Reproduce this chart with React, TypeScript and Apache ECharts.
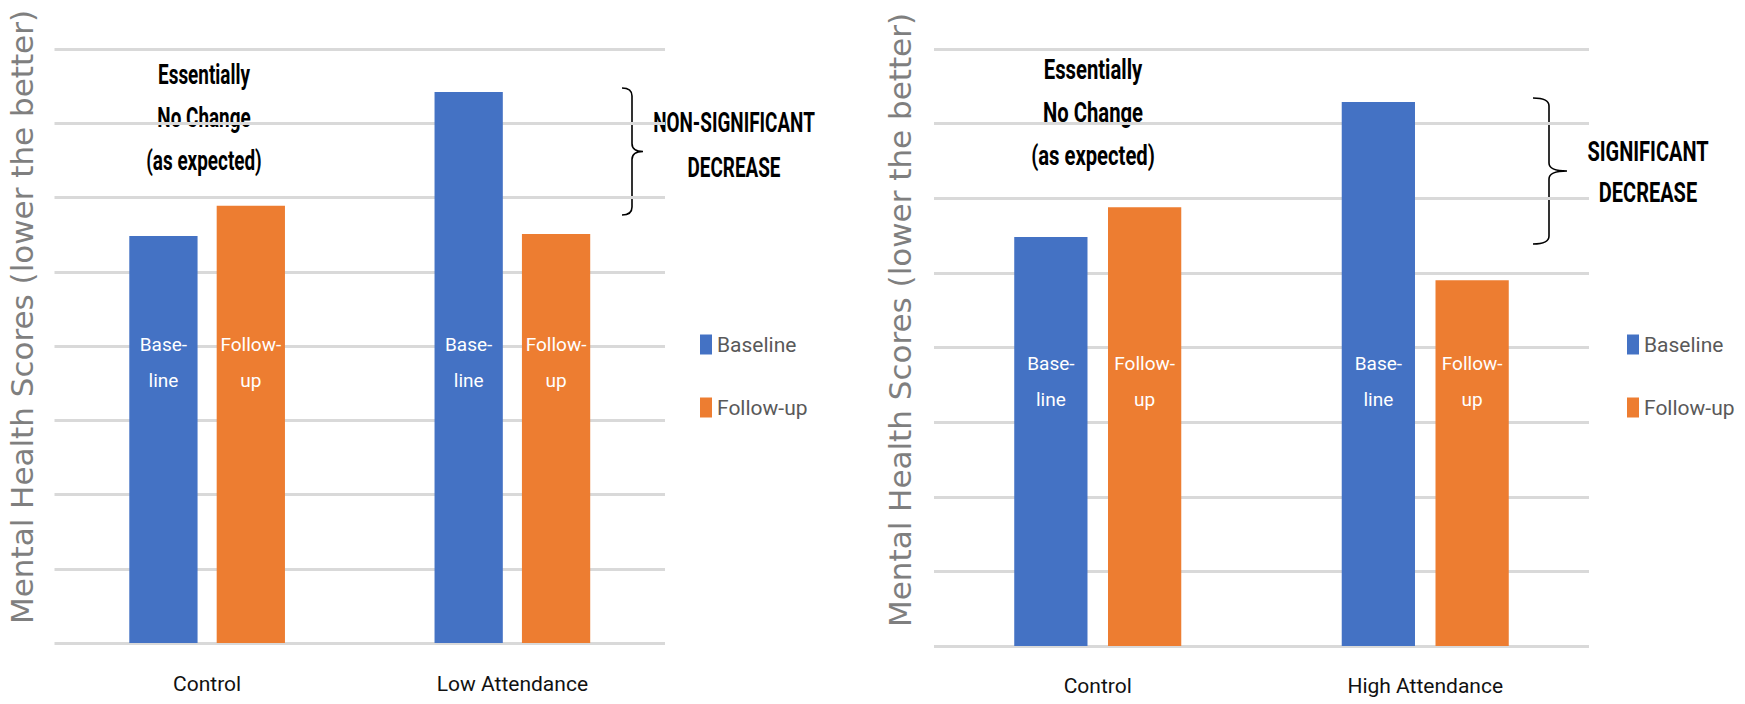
import React, { useEffect, useRef } from "react";
import * as echarts from "echarts";

// ---- data ----
const seriesNames = ["Baseline", "Follow-up"];
const leftCategories = ["Control", "Low Attendance"];
const rightCategories = ["Control", "High Attendance"];
const leftBaseline = [5.48, 7.42];
const leftFollowUp = [5.89, 5.51];
const rightBaseline = [5.48, 7.29];
const rightFollowUp = [5.88, 4.9];
const barLabels = ["Base-\nline", "Follow-\nup"];
const labelLevels = [3.78, 3.55]; // value level where the in-bar labels sit (left, right)
const yAxisTitle = "Mental Health Scores (lower the better)";
const noChangeNote = "Essentially\nNo Change\n(as expected)";
const leftNote = "NON-SIGNIFICANT\nDECREASE";
const rightNote = "SIGNIFICANT\nDECREASE";
const yMin = 0;
const yMax = 8;
const yStep = 1;

const FONT = "Roboto, 'Liberation Sans', sans-serif";
const BLUE = "#4472C4";
const ORANGE = "#ED7D31";

function braceD(w: number, h: number, xv: number) {
  const r = Math.min(8, h / 10);
  const m = h / 2;
  return `M0,0 Q${xv},0 ${xv},${r} L${xv},${m - r} Q${xv},${m} ${w},${m} Q${xv},${m} ${xv},${m + r} L${xv},${h - r} Q${xv},${h} 0,${h}`;
}

let registered = false;
function registerBraces() {
  if (registered) return;
  registered = true;
  echarts.graphic.registerShape("braceLeft", echarts.graphic.extendPath(braceD(21, 127, 10), {}) as any);
  echarts.graphic.registerShape("braceRight", echarts.graphic.extendPath(braceD(34, 146, 16), {}) as any);
}

function barSeries(name: string, data: number[], idx: number, color: string, text: string, level: number) {
  return {
    type: "bar",
    name,
    xAxisIndex: idx,
    yAxisIndex: idx,
    barGap: "28%",
    barCategoryGap: "49%",
    itemStyle: { color },
    emphasis: { disabled: true },
    label: {
      show: true,
      formatter: text,
      color: "#ffffff",
      fontFamily: FONT,
      fontSize: 19,
      lineHeight: 36,
      align: "center",
      verticalAlign: "middle",
    },
    data: data.map((v) => ({
      value: v,
      label: { position: ["50%", `${((v - level) / v) * 100}%`] },
    })),
  };
}

function xAxis(idx: number, cats: string[], margin: number) {
  return {
    type: "category",
    gridIndex: idx,
    data: cats,
    axisLine: { show: false },
    axisTick: { show: false },
    axisLabel: { margin, fontSize: 21, color: "#111", fontFamily: FONT },
  };
}

function yAxis(idx: number, gap: number, pad: number) {
  return {
    type: "value",
    gridIndex: idx,
    min: yMin,
    max: yMax,
    interval: yStep,
    axisLabel: { show: false },
    axisLine: { show: false },
    axisTick: { show: false },
    splitLine: { lineStyle: { color: "#d9d9d9", width: 3 } },
    name: yAxisTitle,
    nameLocation: "middle",
    nameRotate: 90,
    nameGap: gap,
    nameTextStyle: {
      fontFamily: "'DejaVu Sans', Verdana, sans-serif",
      fontSize: 31,
      color: "#7f7f7f",
      padding: [0, 0, 0, pad],
    },
  };
}

function legend(left: number) {
  return {
    data: seriesNames,
    left,
    top: 334,
    orient: "vertical",
    icon: "rect",
    itemWidth: 12,
    itemHeight: 20,
    itemGap: 42,
    padding: 0,
    selectedMode: false,
    textStyle: { fontFamily: FONT, fontSize: 21, color: "#595959" },
  };
}

function noteText(text: string, x: number, y: number, sx: number, lh: number) {
  return {
    type: "text",
    x,
    y,
    scaleX: sx,
    style: {
      text,
      fill: "#000",
      fontFamily: FONT,
      fontWeight: "bold",
      fontSize: 27,
      lineHeight: lh,
      align: "center",
      verticalAlign: "middle",
    },
  };
}

export default function App() {
  const ref = useRef<HTMLDivElement>(null);
  useEffect(() => {
    document.body.style.margin = "0";
    registerBraces();
    const chart = echarts.init(ref.current!, null, { renderer: "svg" });
    chart.setOption({
      animation: false,
      backgroundColor: "#ffffff",
      grid: [
        { left: 54.5, top: 49, width: 610.5, height: 594 },
        { left: 934, top: 49, width: 655, height: 597 },
      ],
      xAxis: [xAxis(0, leftCategories, 30), xAxis(1, rightCategories, 29)],
      yAxis: [yAxis(0, 17, 58), yAxis(1, 19, 55)],
      legend: [legend(700), legend(1627)],
      series: [
        barSeries(seriesNames[0], leftBaseline, 0, BLUE, barLabels[0], labelLevels[0]),
        barSeries(seriesNames[1], leftFollowUp, 0, ORANGE, barLabels[1], labelLevels[0]),
        barSeries(seriesNames[0], rightBaseline, 1, BLUE, barLabels[0], labelLevels[1]),
        barSeries(seriesNames[1], rightFollowUp, 1, ORANGE, barLabels[1], labelLevels[1]),
      ],
      graphic: [
        noteText(noChangeNote, 204, 118, 0.7, 43),
        noteText(noChangeNote, 1093, 113, 0.75, 43),
        noteText(leftNote, 734, 145.5, 0.7, 45),
        noteText(rightNote, 1648, 172.5, 0.74, 41),
        { type: "braceLeft", x: 622, y: 88, style: { stroke: "#000", fill: "none", lineWidth: 1.6 } },
        { type: "braceRight", x: 1533, y: 98, style: { stroke: "#000", fill: "none", lineWidth: 1.6 } },
      ],
    });
    return () => chart.dispose();
  }, []);
  return <div ref={ref} style={{ width: 1745, height: 704 }} />;
}
